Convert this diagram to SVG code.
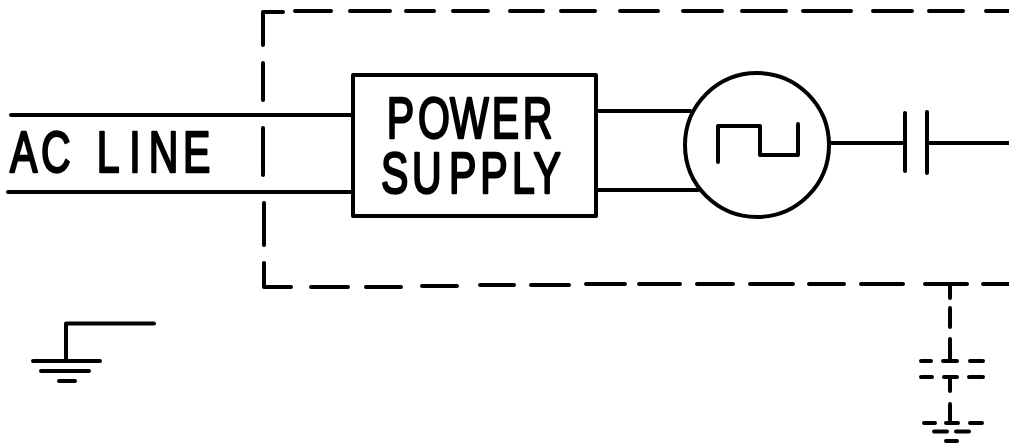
<svg xmlns="http://www.w3.org/2000/svg" width="1009" height="445" viewBox="0 0 1009 445">
<style>
.l{fill:none;stroke:#000;stroke-width:4;stroke-linecap:round;stroke-linejoin:round}
.t{font-family:"Liberation Sans",Arial,sans-serif;font-size:57px;fill:#000;stroke:#000;stroke-width:2.4;stroke-linejoin:round}
</style>
<rect width="1009" height="445" fill="#fff"/>
<g id="enclosure">
<path class="l" d="M263 45V12H283M295 11H331M350 11H390M406 11H434M453 11H488M510 11H543M561 11H595M620 11H658M683 11H722M742 11H786M803 11H851M873 11H912M929 11H963M986 11H1009M263 63V100M263 128V175M264 203V245M264 263V287H291M311 287H348M366 287H401M422 286H457M480 285H514M531 285H569M586 284H625M639 284H680M697 284H733M750 284H793M809 284H844M861 284H903M925 284H967M983 284H1009"/>
</g>
<g id="connectors">
<path class="l" d="M11 115H353M8 192H353M596 111H690M596 190H698M830 143H905M927 143H1009"/>
</g>
<g id="ac-line"><text class="t" transform="translate(0,171.500) scale(.72,1)" x="13.900 56.900 0 134.400 179.400 206.700 254">AC LINE</text></g>
<g id="power-supply">
<rect class="l" x="353" y="75" width="243" height="141"/>
<text class="t" transform="translate(0,137.500) scale(.72,1)" x="537.200 580.600 625 683 726">POWER</text>
<text class="t" transform="translate(0,192.500) scale(.72,1)" x="529.200 572.200 623.600 667 711 741">SUPPLY</text>
</g>
<g id="oscillator">
<circle class="l" cx="757" cy="145" r="72"/>
<path class="l" d="M718 162V126H760V155H798V124"/>
</g>
<g id="capacitor">
<path class="l" d="M905 113V171M927 112V173"/>
</g>
<g id="ground-left">
<path class="l" d="M154 323.500H66V360M33 361H100M41 371H89M59 381H75"/>
</g>
<g id="ground-right">
<path class="l" d="M950 285V298M950 308V327M950 339V361M921 361H931M943 361H957M970 361H983M921 377H932M944 377H957M969 377H983M950 377V391M950 404V423M924 423H935M946 423H958M970 423H982M934 431.500H947M956 431.500H969M946 441H957"/>
</g>
</svg>
